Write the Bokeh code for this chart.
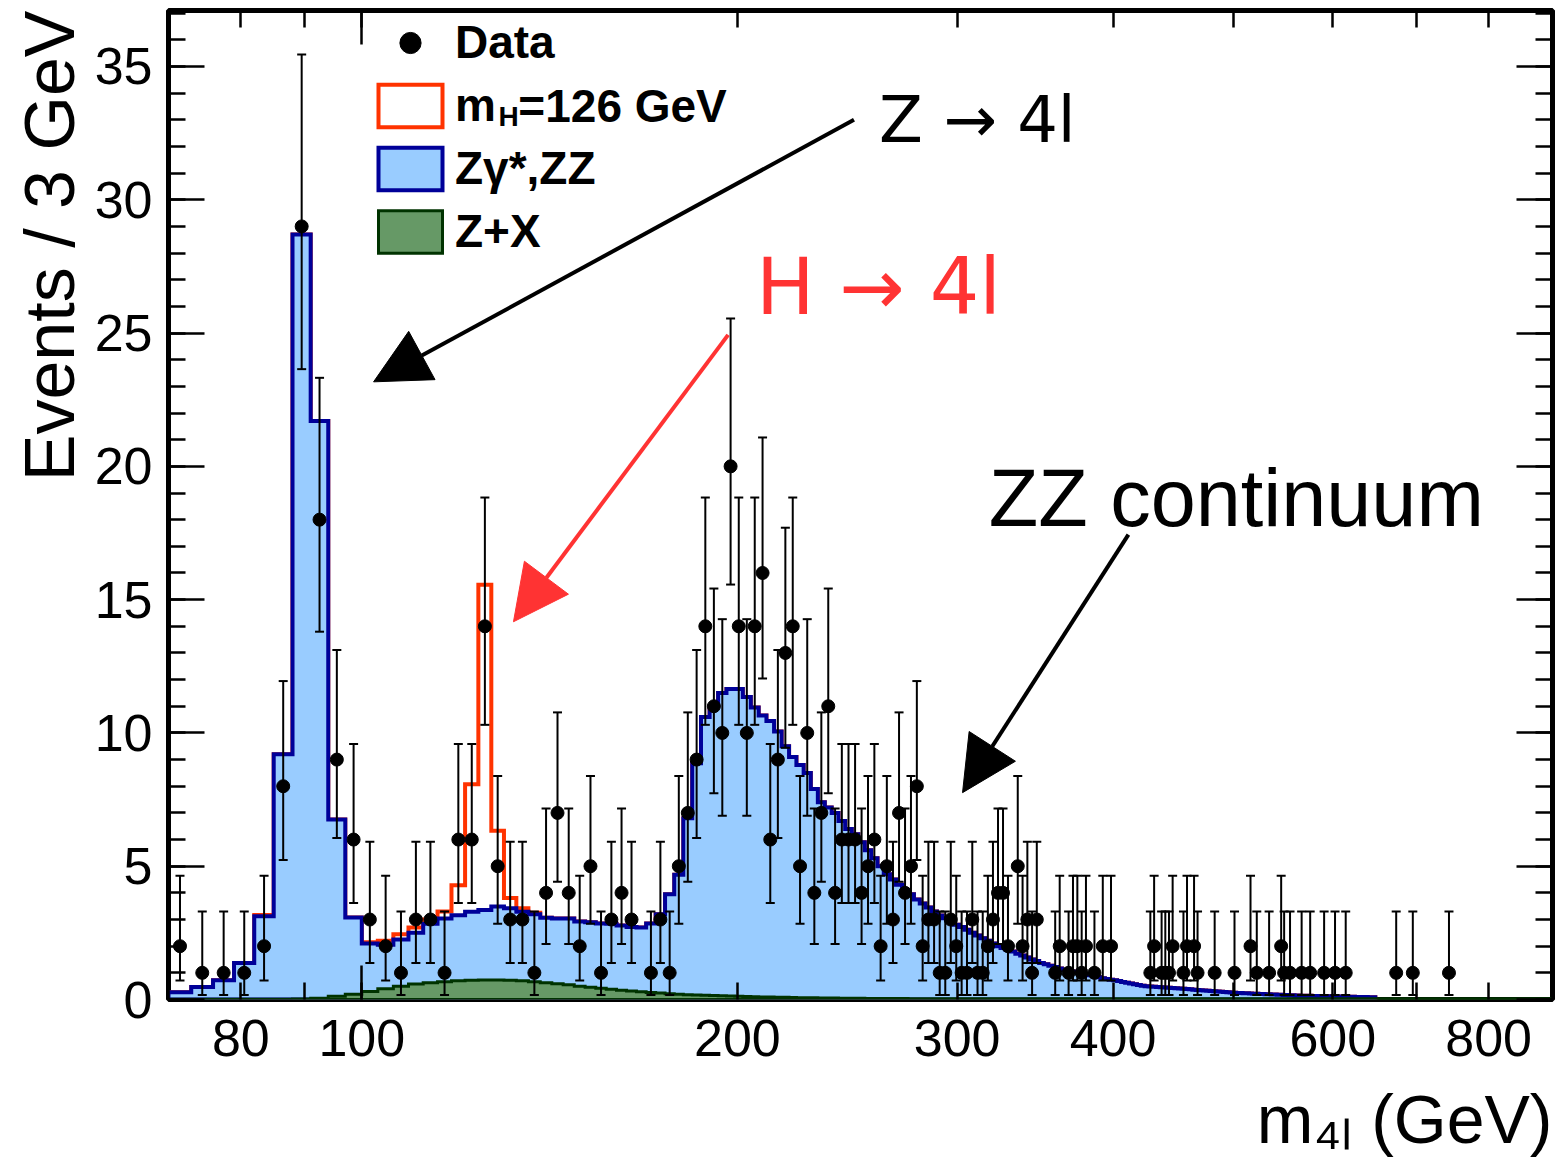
import math
import numpy as np
from bokeh.plotting import figure
from bokeh.models import (ColumnDataSource, LinearAxis, LogAxis, FixedTicker,
                          SingleIntervalTicker, PrintfTickFormatter, Legend,
                          LegendItem, Label, Arrow, NormalHead, Whisker, TeeHead,
                          CustomJSTickFormatter, Title)
from bokeh.embed import file_html
from bokeh.resources import INLINE

# ---------------- data (3 GeV bins starting at 70 GeV) ----------------
BIN_LOW = 70.0
BIN_WIDTH = 3.0

data_events = [
    2, 1, 1, 1, 2, 8, 29, 18, 9, 6,
    3, 2, 1, 3, 3, 1, 6, 6, 14, 5,
    3, 3, 1, 4, 7, 4, 2, 5, 1, 3,
    4, 3, 0, 1, 3, 1, 5, 7, 9, 14,
    11, 10, 20, 14, 10, 14, 16, 6, 9, 13,
    14, 5, 10, 4, 7, 11, 4, 6, 6, 6,
    4, 5, 6, 2, 5, 3, 7, 4, 5, 8,
    2, 3, 3, 1, 1, 3, 2, 1, 1, 3,
    1, 1, 2, 3, 4, 4, 2, 0, 5, 2,
    3, 1, 3, 0, 0, 0, 1, 2, 0, 1,
    2, 2, 1, 2, 0, 1, 0, 2, 0, 2,
    0, 0, 0, 0, 0, 0, 0, 0, 0, 1,
    2, 0, 1, 1, 1, 2, 0, 0, 1, 2,
    0, 2, 1, 0, 0, 0, 0, 1, 0, 0,
    0, 0, 0, 1, 0, 0, 0, 0, 2, 0,
    1, 0, 0, 0, 1, 0, 0, 0, 2, 1,
    0, 1, 0, 0, 0, 1, 0, 0, 1, 0,
    0, 0, 0, 1, 0, 0, 0, 1, 0, 0,
    0, 1, 0, 0, 0, 0, 0, 0, 0, 0,
    0, 0, 0, 0, 0, 0, 0, 0, 0, 0,
    0, 1, 0, 0, 0, 0, 0, 0, 1, 0,
    0, 0, 0, 0, 0, 0, 0, 0, 0, 0,
    0, 0, 0, 0, 1,
]

# Zgamma*,ZZ stacked on top of Z+X (total background height per bin)
zz_stack_events = [
    0.27, 0.47, 0.72, 1.37, 3.12, 9.2, 28.7, 21.7, 6.75, 3.08,
    2.1, 2.05, 2.25, 2.5, 2.84, 3.04, 3.16, 3.29, 3.36, 3.49,
    3.42, 3.29, 3.2, 3.07, 3.04, 3.04, 2.93, 2.9, 2.85, 2.84,
    2.78, 2.72, 2.7, 2.85, 3.2, 3.95, 4.68, 6.8, 8.86, 10.6,
    11.0, 11.5, 11.65, 11.65, 11.35, 10.95, 10.65, 10.45, 10.05, 9.5,
    9.1, 8.8, 8.5, 7.9, 7.4, 7.2, 7.0, 6.7, 6.4, 6.2,
    5.9, 5.6, 5.3, 5.0, 4.7, 4.5, 4.3, 4.1, 3.95, 3.75,
    3.6, 3.45, 3.3, 3.15, 3.05, 2.95, 2.8, 2.72, 2.62, 2.5,
    2.4, 2.3, 2.2, 2.1, 2.0, 1.93, 1.87, 1.8, 1.72, 1.65,
    1.58, 1.5, 1.44, 1.37, 1.32, 1.27, 1.22, 1.16, 1.12, 1.08,
    1.05, 1.02, 0.99, 0.95, 0.91, 0.87, 0.83, 0.8, 0.77, 0.74,
    0.72, 0.69, 0.66, 0.63, 0.6, 0.57, 0.54, 0.52, 0.5, 0.49,
    0.48, 0.47, 0.46, 0.45, 0.44, 0.43, 0.42, 0.41, 0.4, 0.39,
    0.38, 0.37, 0.36, 0.35, 0.34, 0.33, 0.32, 0.31, 0.3, 0.29,
    0.28, 0.27, 0.26, 0.25, 0.245, 0.24, 0.235, 0.23, 0.225, 0.22,
    0.215, 0.21, 0.205, 0.2, 0.195, 0.19, 0.185, 0.18, 0.175, 0.17,
    0.165, 0.16, 0.155, 0.15, 0.148, 0.145, 0.142, 0.14, 0.137, 0.134,
    0.131, 0.128, 0.125, 0.122, 0.12, 0.118, 0.116, 0.114, 0.112, 0.11,
    0.108, 0.106, 0.104, 0.102, 0.1, 0.098, 0.096, 0.094, 0.092, 0.09,
    0.088, 0.086, 0.084,
]

zx_head = [
    0.01, 0.01, 0.01, 0.01, 0.01, 0.01, 0.02, 0.05, 0.12, 0.2,
    0.3, 0.4, 0.5, 0.58, 0.63, 0.67, 0.7, 0.72, 0.73, 0.73,
    0.72, 0.7, 0.67, 0.63, 0.59, 0.55, 0.5, 0.46, 0.42, 0.38,
    0.35, 0.32, 0.29, 0.26, 0.24, 0.22, 0.2, 0.18, 0.17, 0.16,
    0.15, 0.14, 0.13, 0.12, 0.11, 0.1, 0.095, 0.09, 0.085, 0.08,
    0.075, 0.07, 0.066, 0.062, 0.058, 0.055, 0.052, 0.05, 0.048, 0.046,
    0.044, 0.042, 0.04, 0.038, 0.036, 0.035, 0.034, 0.033, 0.032, 0.031,
]
zx_tail_level = 0.025
N_BINS = 277
zx_events = zx_head + [zx_tail_level] * (N_BINS - len(zx_head))

# mH = 126 GeV signal stacked on top of the background
sig_events = [
    0, 0, 0, 0, 0.05, 0, 0, 0, 0, 0,
    0.05, 0.15, 0.2, 0.2, 0.16, 0.26, 1.13, 4.78, 12.2, 2.84,
    0.39, 0.13, 0.05,
]

x_tick_values = [80, 100, 200, 300, 400, 600, 800]
x_minor_values = [70, 90, 500, 700, 900]

FONT = "Liberation Sans"

# ---------------- helpers ----------------
def edges_for(n):
    return BIN_LOW + BIN_WIDTH * np.arange(n + 1)


def step_patch(vals):
    vals = np.asarray(vals, dtype=float)
    e = edges_for(len(vals))
    xs = np.repeat(e, 2)[1:-1]
    ys = np.repeat(vals, 2)
    xs = np.concatenate([[e[0]], xs, [e[-1]]])
    ys = np.concatenate([[0.0], ys, [0.0]])
    return xs, ys


def pois_cdf(n, mu):
    term = math.exp(-mu)
    s = term
    for k in range(1, n + 1):
        term *= mu / k
        s += term
    return s


def garwood(n, a=0.158655):
    lo, hi = float(n), n + 10.0 * math.sqrt(n + 1) + 10.0
    for _ in range(80):
        mid = 0.5 * (lo + hi)
        if pois_cdf(n, mid) > a:
            lo = mid
        else:
            hi = mid
    up = 0.5 * (lo + hi)
    if n == 0:
        return 0.0, up
    lo, hi = 0.0, float(n)
    for _ in range(80):
        mid = 0.5 * (lo + hi)
        if pois_cdf(n - 1, mid) > 1 - a:
            lo = mid
        else:
            hi = mid
    return 0.5 * (lo + hi), up


# ---------------- figure ----------------
p = figure(width=1560, height=1176, x_axis_type="log", x_range=(70, 900),
           y_range=(0, 37.1), output_backend="svg", toolbar_location=None,
           x_axis_location=None, y_axis_location=None,
           min_border_left=168, min_border_right=8, min_border_top=10,
           min_border_bottom=176)
p.outline_line_color = "black"
p.outline_line_width = 5
p.background_fill_color = "white"
p.border_fill_color = "white"
p.grid.visible = False

# stacked histograms
bkg = np.asarray(zz_stack_events)
sig_full = np.zeros(len(bkg))
sig_full[:len(sig_events)] = sig_events
tot = bkg + sig_full

sx, sy = step_patch(tot)
sig_r = p.patch(sx, sy, fill_alpha=0, line_color="#ff3300", line_width=4,
                line_join="miter")
bx, by = step_patch(bkg)
zz_r = p.patch(bx, by, fill_color="#99ccff", line_color="#000099",
               line_width=4, line_join="miter")
gx, gy = step_patch(zx_events)
zx_r = p.patch(gx, gy, fill_color="#669966", line_color="#003300",
               line_width=3, line_join="miter")

# data points
cen = edges_for(len(data_events))[:-1] + BIN_WIDTH / 2
dx, dy, dlo, dup = [], [], [], []
for c, n in zip(cen, data_events):
    if n > 0:
        lo, up = garwood(n)
        dx.append(float(c)); dy.append(n); dlo.append(lo); dup.append(up)
dsrc = ColumnDataSource(dict(x=dx, y=dy, lo=dlo, up=dup))
wh = Whisker(source=dsrc, base="x", lower="lo", upper="up", dimension="height",
             line_color="black", line_width=2, level="glyph",
             upper_head=TeeHead(size=9, line_width=2, line_color="black"),
             lower_head=TeeHead(size=9, line_width=2, line_color="black"))
p.add_layout(wh)
data_r = p.scatter("x", "y", source=dsrc, size=13, color="black")

# ---------------- axes ----------------
blank = CustomJSTickFormatter(code="return ''")


def y_axis(labels):
    ax = LinearAxis(ticker=SingleIntervalTicker(interval=5, num_minor_ticks=5),
                    major_tick_in=36, major_tick_out=0, minor_tick_in=17,
                    minor_tick_out=0, major_tick_line_width=2.5,
                    minor_tick_line_width=2.5, axis_line_color=None)
    if labels:
        ax.major_label_text_font = FONT
        ax.major_label_text_font_size = "52px"
        ax.major_label_standoff = 16
        ax.major_label_text_color = "black"
    else:
        ax.formatter = blank
        ax.major_label_text_font_size = "1px"
        ax.major_label_standoff = 0
    return ax


def x_axes(labels):
    long_ax = LogAxis(ticker=FixedTicker(ticks=[100]), major_tick_in=34,
                      major_tick_out=0, minor_tick_in=0, minor_tick_out=0,
                      major_tick_line_width=2.5, axis_line_color=None,
                      formatter=blank, major_label_text_font_size="1px",
                      major_label_standoff=0)
    ax = LogAxis(ticker=FixedTicker(ticks=x_tick_values, minor_ticks=x_minor_values),
                 major_tick_in=17, major_tick_out=0, minor_tick_in=17,
                 minor_tick_out=0, major_tick_line_width=2.5,
                 minor_tick_line_width=2.5, axis_line_color=None)
    if labels:
        ax.formatter = PrintfTickFormatter(format="%d")
        ax.major_label_text_font = FONT
        ax.major_label_text_font_size = "52px"
        ax.major_label_standoff = 20
        ax.major_label_text_color = "black"
    else:
        ax.formatter = blank
        ax.major_label_text_font_size = "1px"
        ax.major_label_standoff = 0
    return long_ax, ax


p.add_layout(y_axis(True), "left")
p.add_layout(y_axis(False), "right")
la, xa = x_axes(True)
p.add_layout(la, "below")
p.add_layout(xa, "below")
la2, xa2 = x_axes(False)
p.add_layout(la2, "above")
p.add_layout(xa2, "above")

# axis titles (outside the frame, ROOT style: aligned to the far end)
p.add_layout(Title(text="Events / 3 GeV", align="right", text_font=FONT,
                   text_font_size="70px", text_font_style="normal",
                   text_color="black", standoff=5), "left")
p.add_layout(Title(text="m\u2084\u2097 (GeV)", align="right", text_font=FONT,
                   text_font_size="68px", text_font_style="normal",
                   text_color="black", standoff=40), "below")

# ---------------- legend ----------------
legend = Legend(items=[
    LegendItem(label="Data", renderers=[data_r]),
    LegendItem(label="m", renderers=[sig_r]),
    LegendItem(label="Z\u03b3*,ZZ", renderers=[zz_r]),
    LegendItem(label="Z+X", renderers=[zx_r]),
], location=(202, 741), glyph_width=80, glyph_height=53, label_height=54,
    label_standoff=5, spacing=9, padding=0, margin=0,
    border_line_color=None, background_fill_alpha=0,
    label_text_font=FONT, label_text_font_style="bold",
    label_text_font_size="46px", label_text_color="black")
p.add_layout(legend)

p.add_layout(Label(x=128.7, y=33.13, text="H", text_font=FONT,
                   text_font_style="bold", text_font_size="28px",
                   text_baseline="middle", text_align="left",
                   text_color="black"))
p.add_layout(Label(x=133.5, y=33.51, text="=126 GeV", text_font=FONT,
                   text_font_style="bold", text_font_size="46px",
                   text_baseline="middle", text_align="left",
                   text_color="black"))

# ---------------- annotations ----------------
p.add_layout(Label(x=259.7, y=33.0, text="Z \u2192 4l", text_font="DejaVu Sans",
                   text_font_size="64px", text_baseline="middle",
                   text_align="left", text_color="black"))
p.add_layout(Label(x=207.0, y=26.73, text="H \u2192 4l", text_font="DejaVu Sans",
                   text_font_size="78px", text_baseline="middle",
                   text_align="left", text_color="#ff3333"))
p.add_layout(Label(x=318.0, y=18.82, text="ZZ continuum", text_font=FONT,
                   text_font_size="81px", text_baseline="middle",
                   text_align="left", text_color="black"))

p.add_layout(Arrow(x_start=248.0, y_start=33.0, x_end=102.2, y_end=23.17,
                   line_color="black", line_width=4,
                   end=NormalHead(size=55, fill_color="black", line_color="black")))
p.add_layout(Arrow(x_start=196.6, y_start=24.93, x_end=132.3, y_end=14.17,
                   line_color="#ff3333", line_width=4,
                   end=NormalHead(size=55, fill_color="#ff3333", line_color="#ff3333")))
p.add_layout(Arrow(x_start=411.5, y_start=17.44, x_end=303.0, y_end=7.76,
                   line_color="black", line_width=4,
                   end=NormalHead(size=55, fill_color="black", line_color="black")))

open("out.html", "w").write(file_html(p, INLINE))
